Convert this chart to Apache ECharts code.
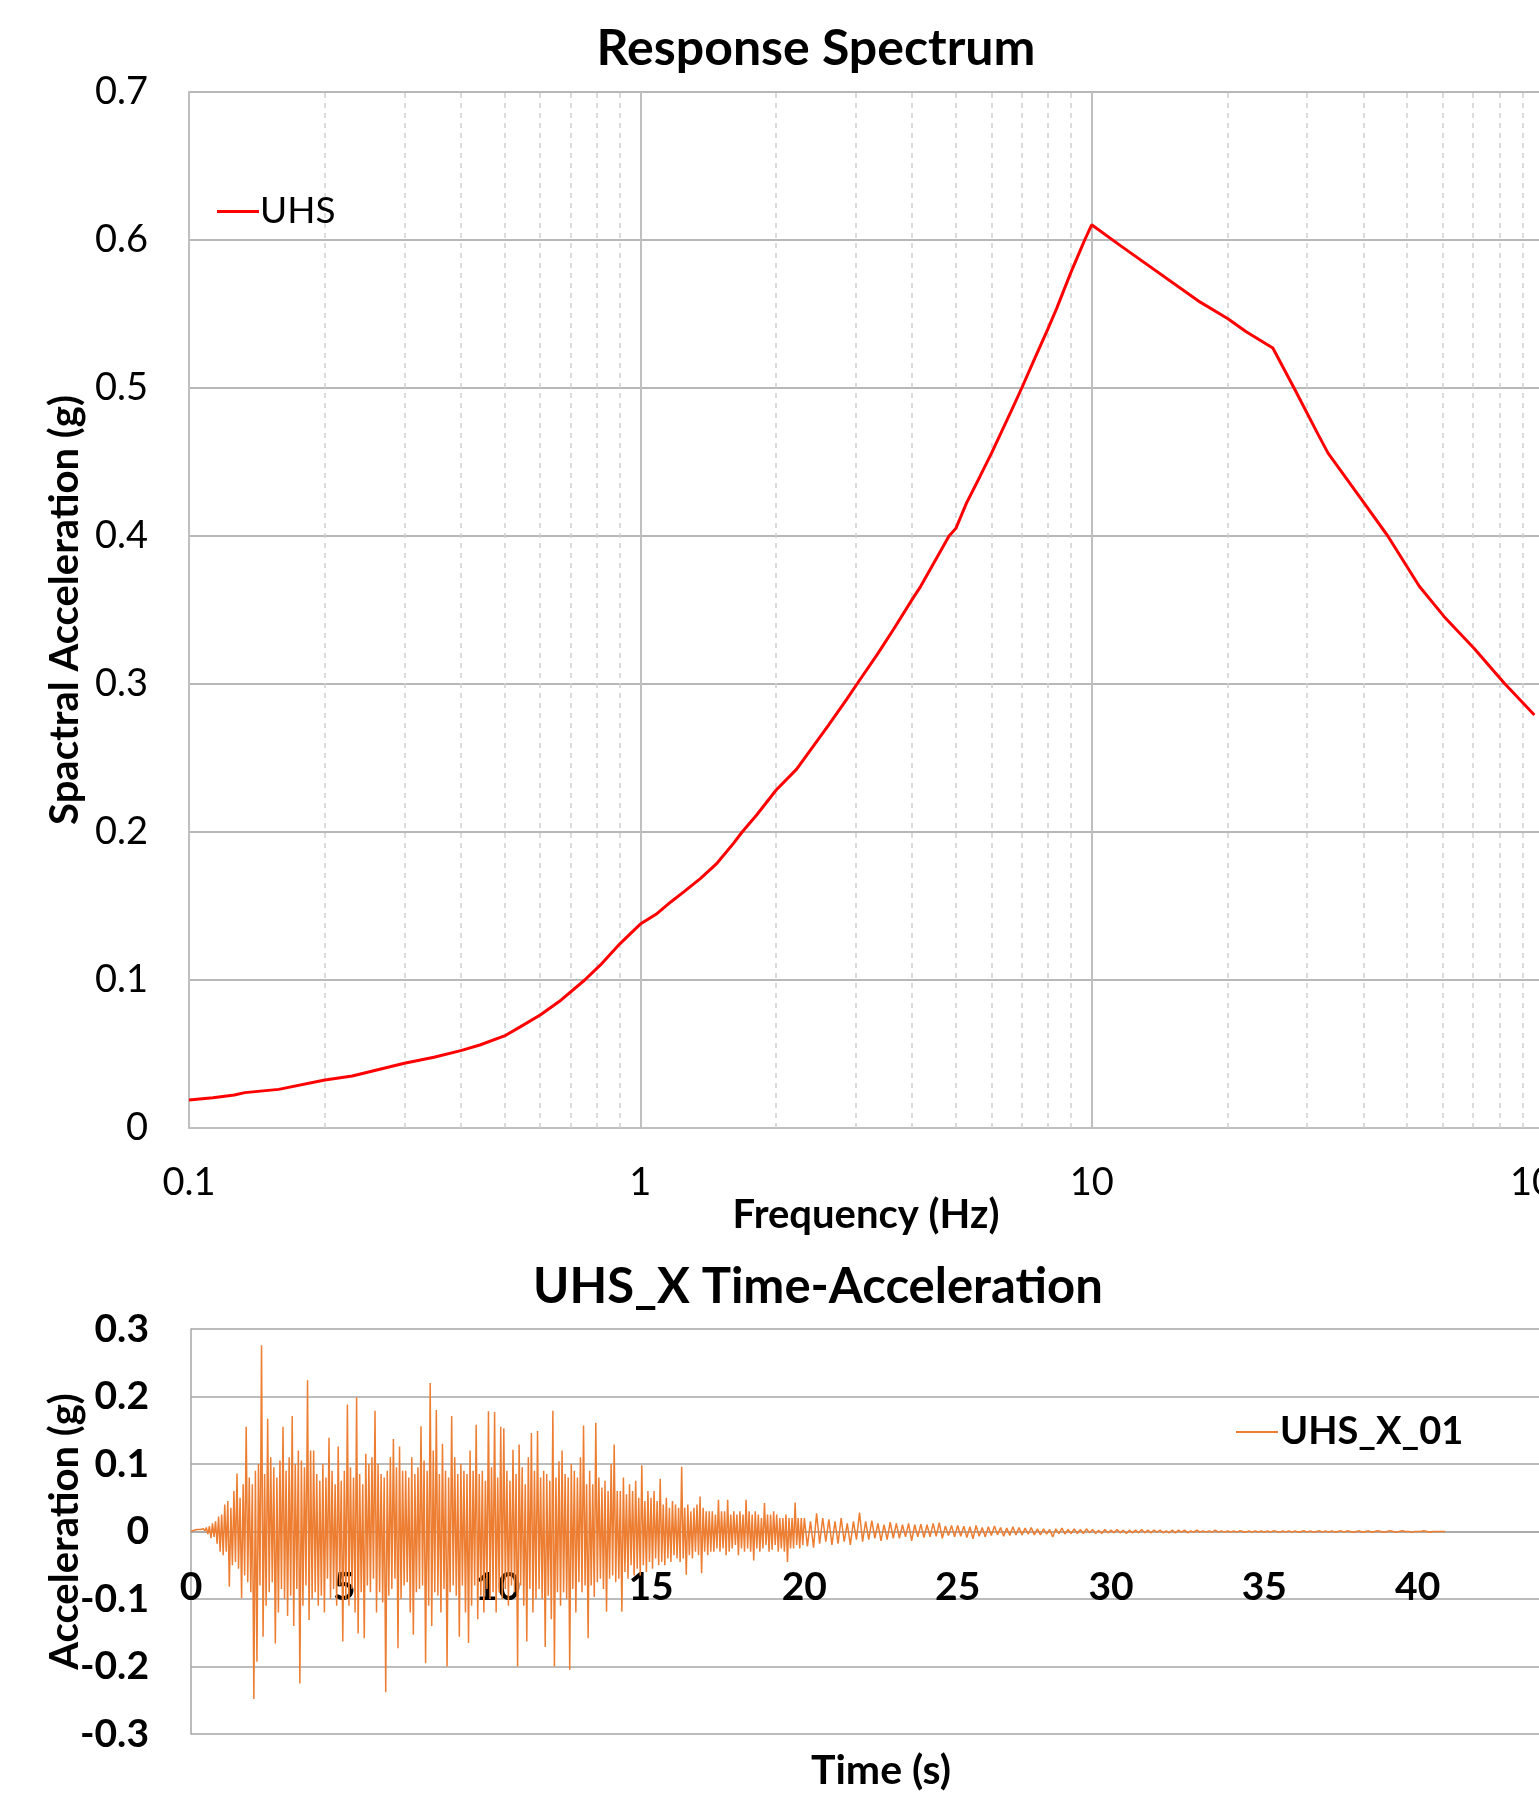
<!DOCTYPE html>
<html><head><meta charset="utf-8">
<script src="https://cdn.jsdelivr.net/npm/echarts@6/dist/echarts.min.js"></script>
<style>html,body{margin:0;padding:0;overflow:hidden;background:#fff}#c{width:1600px;height:1797px}</style>
</head><body><div id="c"></div><script>
// ---- Response spectrum (UHS) ----
const freqHz = [0.1, 0.113, 0.126, 0.133, 0.158, 0.2, 0.23, 0.3, 0.349, 0.4, 0.441, 0.5, 0.543, 0.6, 0.668, 0.753, 0.815, 0.903,
  1.0, 1.09, 1.17, 1.25, 1.36, 1.48, 1.61, 1.681, 1.81, 2.0, 2.22, 2.61, 2.87, 3.02, 3.35, 3.64, 4.0, 4.18, 4.63, 4.83, 5.0,
  5.28, 5.66, 6.0, 6.62, 7.0, 7.43, 8.0, 8.37, 8.7, 9.0, 9.45, 9.65, 10.0, 11.58, 17.4, 20.0, 22.0, 25.2, 28.1, 31.7, 33.4,
  40.2, 45.3, 53.2, 60.4, 70.4, 82.1, 95.7];
const spectralAccelG = [0.0189, 0.0205, 0.0223, 0.0239, 0.0261, 0.0324, 0.0351, 0.0437, 0.0478, 0.0523, 0.0561, 0.0622, 0.0685,
  0.0764, 0.0865, 0.1, 0.110, 0.1248, 0.1378, 0.145, 0.1529, 0.1597, 0.1687, 0.179, 0.1925, 0.2, 0.2115, 0.2284, 0.2425, 0.272,
  0.290, 0.300, 0.320, 0.337, 0.357, 0.366, 0.390, 0.400, 0.405, 0.4222, 0.4404, 0.456, 0.4838, 0.500, 0.518, 0.540, 0.554,
  0.567, 0.5783, 0.5935, 0.600, 0.6103, 0.5962, 0.558, 0.547, 0.538, 0.527, 0.4998, 0.469, 0.456, 0.422, 0.400, 0.366, 0.3455,
  0.324, 0.3005, 0.279];
const minorGridFreqs = [0.2,0.3,0.4,0.5,0.6,0.7,0.8,0.9, 2,3,4,5,6,7,8,9, 20,30,40,50,60,70,80,90];

// ---- Time history UHS_X_01 ----
// strong phase 0 - 19.95 s, one row per second, step 0.05 s
const earlyStep = 0.05;
const accelEarlyRows = [
 [0.000,0.001,0.002,0.000,0.003,0.001,0.003,0.002,0.004,0.001,0.006,-0.004,0.008,-0.010,0.012,-0.008,0.015,-0.018,0.022,-0.030],
 [0.025,-0.035,0.040,-0.030,0.045,-0.082,0.035,-0.050,0.060,-0.045,0.086,-0.055,0.050,-0.099,0.070,-0.065,0.155,-0.075,0.080,-0.090],
 [0.070,-0.248,0.090,-0.193,0.100,-0.080,0.276,-0.156,0.085,-0.110,0.167,-0.090,0.110,-0.075,0.095,-0.166,0.080,-0.120,0.105,-0.085],
 [0.155,-0.100,0.090,-0.125,0.110,-0.095,0.171,-0.140,0.100,-0.085,0.120,-0.225,0.105,-0.110,0.095,-0.080,0.224,-0.131,0.120,-0.100],
 [0.120,-0.090,0.085,-0.110,0.075,-0.095,0.100,-0.120,0.080,-0.070,0.139,-0.100,0.090,-0.085,0.070,-0.110,0.126,-0.080,0.075,-0.163],
 [0.090,-0.100,0.188,-0.110,0.095,-0.085,0.080,-0.120,0.199,-0.151,0.085,-0.090,0.070,-0.158,0.115,-0.080,0.100,-0.090,0.110,-0.070],
 [0.179,-0.120,0.100,-0.090,0.085,-0.105,0.080,-0.238,0.090,-0.095,0.110,-0.085,0.137,-0.070,0.095,-0.173,0.126,-0.100,0.090,-0.080],
 [0.090,-0.075,0.080,-0.120,0.110,-0.153,0.085,-0.090,0.095,-0.085,0.156,-0.080,0.105,-0.195,0.090,-0.110,0.220,-0.140,0.120,-0.090],
 [0.180,-0.095,0.085,-0.120,0.130,-0.085,0.090,-0.200,0.080,-0.090,0.171,-0.080,0.110,-0.095,0.085,-0.156,0.100,-0.080,0.090,-0.120],
 [0.085,-0.165,0.120,-0.110,0.090,-0.080,0.158,-0.130,0.085,-0.095,0.090,-0.120,0.075,-0.085,0.178,-0.100,0.095,-0.090,0.177,-0.120],
 [0.080,-0.090,0.155,-0.100,0.153,-0.085,0.090,-0.110,0.075,-0.080,0.121,-0.090,0.085,-0.200,0.129,-0.080,0.095,-0.110,0.070,-0.163],
 [0.110,-0.085,0.146,-0.120,0.090,-0.100,0.149,-0.085,0.080,-0.100,0.090,-0.171,0.085,-0.095,0.075,-0.130,0.179,-0.200,0.080,-0.090],
 [0.104,-0.110,0.120,-0.090,0.085,-0.100,0.080,-0.205,0.100,-0.085,0.090,-0.120,0.080,-0.075,0.110,-0.090,0.157,-0.080,0.070,-0.158],
 [0.090,-0.080,0.070,-0.097,0.161,-0.075,0.080,-0.070,0.065,-0.085,0.075,-0.119,0.060,-0.070,0.100,-0.065,0.129,-0.075,0.060,-0.070],
 [0.060,-0.119,0.080,-0.060,0.055,-0.070,0.070,-0.050,0.060,-0.065,0.075,-0.055,0.050,-0.065,0.098,-0.050,0.045,-0.060,0.060,-0.045],
 [0.050,-0.055,0.060,-0.040,0.045,-0.050,0.078,-0.045,0.040,-0.050,0.050,-0.040,0.035,-0.045,0.045,-0.035,0.040,-0.040,0.035,-0.045],
 [0.096,-0.040,0.035,-0.064,0.040,-0.035,0.030,-0.040,0.035,-0.030,0.040,-0.035,0.052,-0.062,0.035,-0.030,0.030,-0.035,0.030,-0.030],
 [0.030,-0.030,0.025,-0.025,0.047,-0.030,0.030,-0.025,0.030,-0.035,0.047,-0.030,0.025,-0.025,0.030,-0.020,0.025,-0.035,0.030,-0.025],
 [0.025,-0.030,0.047,-0.025,0.030,-0.030,0.025,-0.043,0.030,-0.025,0.025,-0.030,0.020,-0.025,0.042,-0.020,0.025,-0.030,0.025,-0.027],
 [0.030,-0.020,0.025,-0.030,0.020,-0.025,0.020,-0.030,0.025,-0.045,0.020,-0.025,0.020,-0.025,0.043,-0.020,0.020,-0.025,0.020,-0.020]
];
// coda 20.0 - 40.9 s, one row per second, step 0.1 s
const lateStart = 20.0;
const lateStep = 0.1;
const accelLateRows = [
 [0.020,-0.022,0.015,-0.024,0.027,-0.018,0.020,-0.015,0.018,-0.020],
 [0.015,-0.018,0.020,-0.015,0.012,-0.020,0.015,-0.012,0.028,-0.015],
 [0.015,-0.012,0.016,-0.010,0.012,-0.014,0.010,-0.012,0.014,-0.010],
 [0.012,-0.010,0.010,-0.008,0.012,-0.014,0.010,-0.008,0.011,-0.009],
 [0.010,-0.008,0.012,-0.007,0.013,-0.010,0.008,-0.006,0.009,-0.008],
 [0.009,-0.007,0.008,-0.009,0.007,-0.011,0.009,-0.007,0.006,-0.008],
 [0.007,-0.006,0.008,-0.005,0.006,-0.007,0.005,-0.006,0.007,-0.005],
 [0.006,-0.005,0.005,-0.004,0.006,-0.005,0.004,-0.005,0.004,-0.004],
 [0.003,-0.008,0.004,-0.003,0.005,-0.004,0.003,-0.003,0.004,-0.003],
 [0.003,-0.003,0.004,-0.002,0.003,-0.003,0.002,-0.003,0.003,-0.002],
 [0.002,-0.002,0.003,-0.002,0.002,-0.003,0.002,-0.002,0.002,-0.002],
 [0.003,-0.002,0.002,-0.002,0.002,-0.001,0.002,-0.002,0.001,-0.002],
 [0.002,-0.002,0.002,-0.001,0.002,-0.002,0.001,-0.001,0.002,-0.001],
 [0.001,-0.001,0.001,-0.001,0.002,-0.001,0.001,-0.001,0.001,-0.001],
 [0.001,-0.001,0.001,0.000,-0.001,0.001,-0.001,0.001,-0.001,0.001],
 [-0.001,0.001,-0.001,0.001,0.000,-0.001,0.001,-0.001,0.001,-0.001],
 [0.001,-0.001,0.000,0.001,-0.001,0.001,-0.001,0.000,0.001,-0.001],
 [0.001,-0.001,0.001,-0.001,0.000,0.001,-0.001,0.001,0.000,-0.001],
 [0.000,0.001,-0.001,0.000,0.001,-0.001,0.000,0.001,0.000,-0.001],
 [0.000,0.001,0.000,-0.001,0.000,0.001,0.000,0.000,-0.001,0.000],
 [0.000,0.000,0.001,0.000,-0.001,0.000,0.000,0.000,0.000,0.000]
];
const accelEarly = accelEarlyRows.flat();
const accelLate = accelLateRows.flat();
const timeHistory = accelEarly.map((a, i) => [Number((i * earlyStep).toFixed(2)), a])
  .concat(accelLate.map((a, i) => [Number((lateStart + i * lateStep).toFixed(2)), a]));

const FONT = 'Lato';
const chart = echarts.init(document.getElementById('c'), null, {renderer: 'canvas'});
const bold = (s) => ({fontFamily: FONT, fontSize: s, fontWeight: 'bold', color: '#000'});
const reg = (s) => ({fontFamily: FONT, fontSize: s, fontWeight: 'normal', color: '#000'});

chart.setOption({
  animation: false,
  textStyle: {fontFamily: FONT},
  title: [
    {text: 'Response Spectrum', left: 816, top: 24, textAlign: 'center', padding: 0, textStyle: bold(50)},
    {text: 'UHS_X Time-Acceleration', left: 818, top: 1263, textAlign: 'center', padding: 0, textStyle: bold(49)}
  ],
  legend: [
    {data: ['UHS'], left: 217, top: 193, padding: 0, icon: 'rect', itemWidth: 42, itemHeight: 3,
     textStyle: Object.assign(reg(37), {padding: [0, 0, 0, -4]})},
    {data: ['UHS_X_01'], left: 1236, top: 1413, padding: 0, icon: 'rect', itemWidth: 42, itemHeight: 2,
     textStyle: Object.assign(bold(38), {padding: [0, 0, 0, -3]})}
  ],
  grid: [
    {left: 189, top: 92, width: 1354, height: 1036, containLabel: false, outerBoundsMode: 'none'},
    {left: 191, top: 1329, width: 1380, height: 405, containLabel: false, outerBoundsMode: 'none'}
  ],
  xAxis: [
    {type: 'log', logBase: 10, min: 0.1, max: 100, gridIndex: 0,
     name: 'Frequency (Hz)', nameLocation: 'middle', nameGap: 67, nameMoveOverlap: false, nameTextStyle: bold(40),
     axisLine: {show: true, lineStyle: {color: '#bfbfbf', width: 2}},
     axisTick: {show: false},
     axisLabel: Object.assign(reg(38), {margin: 36, formatter: v => String(Number(v.toPrecision(6)))}),
     splitLine: {show: true, lineStyle: {color: '#bfbfbf', width: 2}}},
    {type: 'value', min: 0, max: 45, interval: 5, gridIndex: 1, offset: -202.5,
     name: 'Time (s)', nameLocation: 'middle', nameGap: 219, nameMoveOverlap: false, nameTextStyle: bold(41),
     axisLine: {show: true, onZero: false, lineStyle: {color: '#a6a6a6', width: 1.5}},
     axisTick: {show: false},
     axisLabel: Object.assign(bold(39), {margin: 36}),
     splitLine: {show: false}}
  ],
  yAxis: [
    {type: 'value', min: 0, max: 0.7, interval: 0.1, gridIndex: 0,
     name: 'Spactral Acceleration (g)', nameLocation: 'middle', nameGap: 104, nameMoveOverlap: false, nameTextStyle: bold(40),
     axisLine: {show: true, lineStyle: {color: '#bfbfbf', width: 2}},
     axisTick: {show: false},
     axisLabel: Object.assign(reg(38), {margin: 41}),
     splitLine: {show: true, lineStyle: {color: '#a0a0a0', width: 1.5}}},
    {type: 'value', min: -0.3, max: 0.3, interval: 0.1, gridIndex: 1,
     name: 'Acceleration (g)', nameLocation: 'middle', nameGap: 106, nameMoveOverlap: false, nameTextStyle: bold(40),
     axisLine: {show: true, lineStyle: {color: '#a6a6a6', width: 1.5}},
     axisTick: {show: false},
     axisLabel: Object.assign(bold(39), {margin: 42}),
     splitLine: {show: true, lineStyle: {color: '#a6a6a6', width: 1.5}}}
  ],
  series: [
    {name: 'minorGrid', type: 'line', xAxisIndex: 0, yAxisIndex: 0, data: [], silent: true, z: 1,
     markLine: {silent: true, z: 1, symbol: ['none', 'none'], label: {show: false}, animation: false,
       lineStyle: {type: [5, 5], color: '#d0d0d0', width: 1.5},
       emphasis: {disabled: true},
       data: minorGridFreqs.map(f => ({xAxis: f}))}},
    {name: 'UHS', type: 'line', xAxisIndex: 0, yAxisIndex: 0, z: 3, showSymbol: false, symbol: 'none',
     data: freqHz.map((f, i) => [f, spectralAccelG[i]]),
     lineStyle: {color: '#ff0000', width: 3}, itemStyle: {color: '#ff0000'}},
    {name: 'UHS_X_01', type: 'line', xAxisIndex: 1, yAxisIndex: 1, z: 3, showSymbol: false, symbol: 'none',
     data: timeHistory,
     lineStyle: {color: '#ed7d31', width: 1.5}, itemStyle: {color: '#ed7d31'}}
  ]
});
</script></body></html>
